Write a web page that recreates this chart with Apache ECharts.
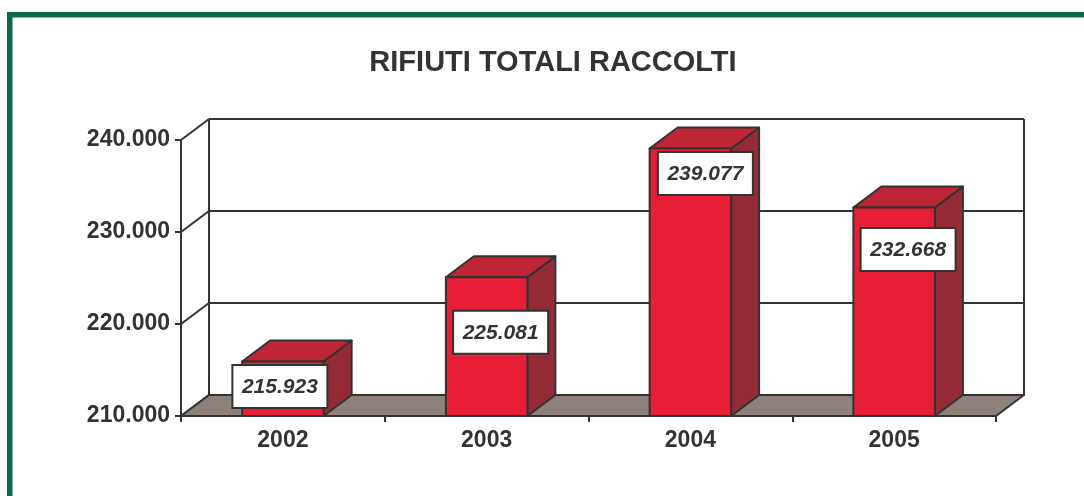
<!DOCTYPE html>
<html>
<head>
<meta charset="utf-8">
<script src="https://cdn.jsdelivr.net/npm/echarts@6/dist/echarts.min.js"></script>
<style>
  html, body { margin: 0; padding: 0; background: #fff; }
  #chart { width: 1084px; height: 496px; }
</style>
</head>
<body>
<div id="chart"></div>
<script>
// ---- data ----
const title = 'RIFIUTI TOTALI RACCOLTI';
const categories = ['2002', '2003', '2004', '2005'];
const values = [215923, 225081, 239077, 232668];
const yTicks = [210000, 220000, 230000, 240000];

// ---- styling (pixel offsets for the 3D look and label boxes) ----
const DX = 28, DY = -21;
const labelDx = [-3, 14, 15, 14];
const labelDy = [25, 55, 25, 42];
const INK = '#333333';
const FONT = '"Liberation Sans", Arial, Helvetica, sans-serif';

function fmt(v) { return String(v).replace(/\B(?=(\d{3})+(?!\d))/g, '.'); }

const yMin = yTicks[0], yMax = yTicks[yTicks.length - 1];

const chart = echarts.init(document.getElementById('chart'), null, { renderer: 'canvas' });

const option = {
  animation: false,
  backgroundColor: '#ffffff',
  graphic: [
    { type: 'rect', shape: { x: 7, y: 12, width: 1077, height: 5.5 }, style: { fill: '#0b6a45' }, z: 10 },
    { type: 'rect', shape: { x: 7, y: 12, width: 5.5, height: 484 }, style: { fill: '#0b6a45' }, z: 10 },
    { type: 'text', x: 553, y: 63, z: 10,
      style: { text: title, align: 'center', verticalAlign: 'middle',
               font: 'bold 29px ' + FONT, fill: INK } }
  ],
  grid: { left: 181, right: 88, top: 140, bottom: 80, containLabel: false },
  xAxis: {
    type: 'category',
    data: categories,
    boundaryGap: true,
    axisLine: { show: true, lineStyle: { color: INK, width: 2 } },
    axisTick: { show: true, length: 6, lineStyle: { color: INK, width: 2 } },
    axisLabel: { color: INK, fontSize: 23, fontWeight: 'bold', fontFamily: FONT, margin: 13 },
    splitLine: { show: false }
  },
  yAxis: {
    type: 'value',
    min: yMin, max: yMax, interval: 10000,
    axisLine: { show: true, lineStyle: { color: INK, width: 2 } },
    axisTick: { show: true, length: 6, lineStyle: { color: INK, width: 2 } },
    axisLabel: { color: INK, fontSize: 23, fontWeight: 'bold', fontFamily: FONT, margin: 11, formatter: fmt },
    splitLine: { show: false }
  },
  series: [
    // back wall gridlines + left side wall diagonals
    {
      type: 'custom', z: 1, clip: false, silent: true,
      data: yTicks.map(v => [0, v]),
      renderItem: function (params, api) {
        const cs = params.coordSys;
        const y = api.coord([0, api.value(1)])[1];
        const L = cs.x, R = cs.x + cs.width;
        return {
          type: 'group',
          children: [
            { type: 'line', shape: { x1: L + DX, y1: y + DY, x2: R + DX, y2: y + DY },
              style: { stroke: INK, lineWidth: 2 } },
            { type: 'line', shape: { x1: L, y1: y, x2: L + DX, y2: y + DY },
              style: { stroke: INK, lineWidth: 2 } }
          ]
        };
      }
    },
    // back wall verticals + floor
    {
      type: 'custom', z: 1, clip: false, silent: true,
      data: [[0, yMin, yMax]],
      renderItem: function (params, api) {
        const cs = params.coordSys;
        const yb = api.coord([0, api.value(1)])[1];
        const yt = api.coord([0, api.value(2)])[1];
        const L = cs.x, R = cs.x + cs.width;
        return {
          type: 'group',
          children: [
            { type: 'line', shape: { x1: L + DX, y1: yt + DY, x2: L + DX, y2: yb + DY },
              style: { stroke: INK, lineWidth: 2 } },
            { type: 'line', shape: { x1: R + DX, y1: yt + DY, x2: R + DX, y2: yb + DY },
              style: { stroke: INK, lineWidth: 2 } },
            { type: 'polygon',
              shape: { points: [[L, yb], [R, yb], [R + DX, yb + DY], [L + DX, yb + DY]] },
              style: { fill: '#8e817c', stroke: INK, lineWidth: 2, lineJoin: 'round' } }
          ]
        };
      }
    },
    // 3D bars
    {
      type: 'custom', z: 3, clip: false,
      data: values.map((v, i) => [i, v]),
      renderItem: function (params, api) {
        const i = api.value(0);
        const p = api.coord([i, api.value(1)]);
        const base = api.coord([i, yMin])[1];
        const bw = api.size([1, 0])[0] * 0.4;
        const x0 = p[0] - bw / 2, x1 = p[0] + bw / 2, top = p[1];
        const st = { stroke: INK, lineWidth: 2, lineJoin: 'round' };
        return {
          type: 'group',
          children: [
            { type: 'polygon', shape: { points: [[x1, top], [x1 + DX, top + DY], [x1 + DX, base + DY], [x1, base]] },
              style: Object.assign({ fill: '#942b36' }, st) },
            { type: 'polygon', shape: { points: [[x0, top], [x0 + DX, top + DY], [x1 + DX, top + DY], [x1, top]] },
              style: Object.assign({ fill: '#be2535' }, st) },
            { type: 'rect', shape: { x: x0, y: top, width: bw, height: base - top },
              style: Object.assign({ fill: '#e81d36' }, st) }
          ]
        };
      }
    },
    // value labels
    {
      type: 'custom', z: 5, clip: false,
      data: values.map((v, i) => [i, v]),
      renderItem: function (params, api) {
        const i = api.value(0);
        const v = api.value(1);
        const p = api.coord([i, v]);
        const cx = p[0] + labelDx[i], cy = p[1] + labelDy[i];
        const w = 95, h = 43;
        return {
          type: 'group',
          children: [
            { type: 'rect', shape: { x: cx - w / 2, y: cy - h / 2, width: w, height: h },
              style: { fill: '#ffffff', stroke: INK, lineWidth: 2 } },
            { type: 'text', x: cx, y: cy + 1,
              style: { text: fmt(v), align: 'center', verticalAlign: 'middle',
                       font: 'italic bold 21px ' + FONT, fill: INK } }
          ]
        };
      }
    }
  ]
};

chart.setOption(option);
</script>
</body>
</html>
